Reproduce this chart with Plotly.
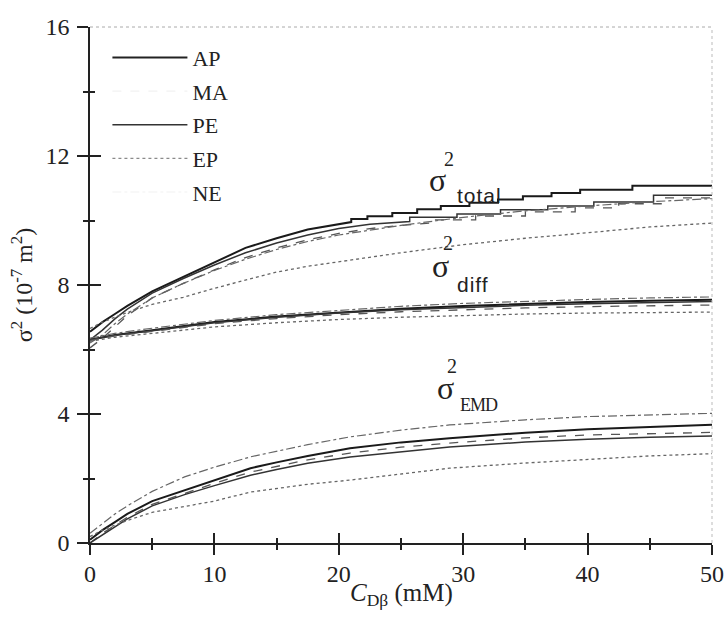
import plotly.graph_objects as go

# ---------------- data ----------------
models = ["AP", "MA", "PE", "EP", "NE"]

x_grid = [0, 1, 2, 3, 5, 7.5, 10, 12.5, 15, 17.5, 20, 25, 30, 35, 40, 45, 50]

# sigma^2_total : smooth part + staircase part
total_AP_x = [0, 1, 2, 3, 5, 7.5, 10, 12.5, 15, 17.5, 21.0]
total_AP_y = [6.55, 6.85, 7.1, 7.35, 7.8, 8.25, 8.7, 9.15, 9.45, 9.72, 9.95]
total_AP_step_x = [21.0, 22.3, 24.3, 26.3, 28.2, 30.5, 32.8, 34.8, 37.1, 39.4, 43.6]
total_AP_step_y = [10.05, 10.13, 10.23, 10.35, 10.45, 10.55, 10.65, 10.75, 10.85, 10.95, 11.08]

total_PE_x = [0, 1, 2, 3, 5, 7.5, 10, 12.5, 15, 17.5, 20, 22.5, 25.7]
total_PE_y = [6.3, 6.6, 6.95, 7.25, 7.75, 8.2, 8.62, 9.0, 9.3, 9.55, 9.75, 9.88, 9.97]
total_PE_step_x = [25.7, 29.5, 33.0, 36.8, 40.5, 45.3]
total_PE_step_y = [10.1, 10.2, 10.33, 10.45, 10.57, 10.78]

total_MA_x = [0, 1, 2, 3, 5, 7.5, 10, 12.5, 15, 17.5, 20, 22.5, 25, 27.3]
total_MA_y = [6.05, 6.35, 6.7, 7.05, 7.6, 8.05, 8.47, 8.85, 9.15, 9.4, 9.6, 9.75, 9.85, 9.92]
total_MA_step_x = [27.3, 31.0, 35.0, 39.0, 42.5, 46.0]
total_MA_step_y = [10.02, 10.14, 10.27, 10.39, 10.52, 10.7]

total_NE_y = [6.2, 6.45, 6.8, 7.1, 7.6, 8.05, 8.45, 8.8, 9.1, 9.35, 9.55, 9.85, 10.1, 10.3, 10.45, 10.58, 10.68]
total_EP_y = [6.65, 6.85, 7.0, 7.15, 7.4, 7.62, 7.9, 8.15, 8.4, 8.58, 8.72, 9.0, 9.25, 9.45, 9.62, 9.8, 9.92]

# sigma^2_diff
diff_x = [0, 2, 5, 10, 15, 20, 25, 30, 35, 40, 45, 50]
diff_AP = [6.3, 6.45, 6.6, 6.85, 7.02, 7.15, 7.26, 7.35, 7.42, 7.47, 7.51, 7.54]
diff_PE = [6.3, 6.44, 6.58, 6.83, 7.0, 7.13, 7.23, 7.31, 7.37, 7.42, 7.46, 7.49]
diff_MA = [6.28, 6.42, 6.56, 6.8, 6.96, 7.08, 7.17, 7.24, 7.29, 7.33, 7.36, 7.38]
diff_NE = [6.35, 6.5, 6.66, 6.9, 7.08, 7.22, 7.34, 7.43, 7.5, 7.55, 7.6, 7.63]
diff_EP = [6.25, 6.38, 6.5, 6.7, 6.83, 6.93, 7.0, 7.06, 7.1, 7.13, 7.15, 7.16]

# sigma^2_EMD
emd_x = [0, 1, 2, 3, 5, 7.6, 10, 12.9, 15, 17.5, 20.9, 25, 28.9, 35, 40, 45, 50]
emd_NE = [0.3, 0.6, 0.9, 1.15, 1.6, 2.05, 2.35, 2.67, 2.85, 3.05, 3.29, 3.5, 3.66, 3.82, 3.92, 3.98, 4.02]
emd_AP = [0.1, 0.4, 0.65, 0.9, 1.3, 1.64, 1.95, 2.32, 2.5, 2.7, 2.94, 3.12, 3.25, 3.42, 3.53, 3.61, 3.67]
emd_MA = [0.0, 0.3, 0.55, 0.8, 1.2, 1.55, 1.85, 2.2, 2.38, 2.58, 2.79, 2.97, 3.1, 3.26, 3.35, 3.4, 3.43]
emd_PE = [0.0, 0.25, 0.5, 0.75, 1.15, 1.5, 1.78, 2.1, 2.28, 2.47, 2.67, 2.84, 2.98, 3.13, 3.22, 3.28, 3.32]
emd_EP = [0.2, 0.4, 0.55, 0.7, 0.95, 1.12, 1.3, 1.58, 1.7, 1.82, 1.95, 2.14, 2.32, 2.48, 2.6, 2.7, 2.77]

x_end = 50
x_ticks = [0, 10, 20, 30, 40, 50]
y_ticks = [0, 4, 8, 12, 16]

# curve-group labels: (subscript text, sigma pos, "2" pos, subscript pos)
group_labels = [
    ("total", (27.97, 11.25), (28.86, 11.92), (29.34, 10.76)),
    ("diff", (28.14, 8.6), (28.78, 9.3), (29.34, 8.03)),
    ("EMD", (28.54, 4.82), (29.10, 5.5), (29.58, 4.28)),
]

# ---------------- styles ----------------
style = {
    "AP": dict(color="#1a1a1a", width=2.0, dash="solid"),
    "MA": dict(color="#555555", width=1.3, dash="dash"),
    "PE": dict(color="#333333", width=1.5, dash="solid"),
    "EP": dict(color="#666666", width=1.3, dash="dot"),
    "NE": dict(color="#666666", width=1.2, dash="dashdot"),
}
legend_color = {"AP": "#222222", "MA": "#f2f2f2", "PE": "#333333", "EP": "#8a8a8a", "NE": "#f2f2f2"}


def staircase(xs, ys, sx, sy, xe):
    X, Y = list(xs), list(ys)
    for i, (a, b) in enumerate(zip(sx, sy)):
        X.append(a); Y.append(b)
        nxt = sx[i + 1] if i + 1 < len(sx) else xe
        X.append(nxt); Y.append(b)
    return X, Y


fig = go.Figure()

def add(x, y, m):
    fig.add_trace(go.Scatter(x=x, y=y, mode="lines", line=style[m], showlegend=False,
                             hoverinfo="skip"))

# total
X, Y = staircase(total_AP_x, total_AP_y, total_AP_step_x, total_AP_step_y, x_end); add(X, Y, "AP")
X, Y = staircase(total_PE_x, total_PE_y, total_PE_step_x, total_PE_step_y, x_end); add(X, Y, "PE")
X, Y = staircase(total_MA_x, total_MA_y, total_MA_step_x, total_MA_step_y, x_end); add(X, Y, "MA")
add(x_grid, total_NE_y, "NE")
add(x_grid, total_EP_y, "EP")
# diff
for m, arr in zip(["AP", "PE", "MA", "NE", "EP"], [diff_AP, diff_PE, diff_MA, diff_NE, diff_EP]):
    add(diff_x, arr, m)
# EMD
for m, arr in zip(["NE", "AP", "MA", "PE", "EP"], [emd_NE, emd_AP, emd_MA, emd_PE, emd_EP]):
    add(emd_x, arr, m)

# legend entries
for i, m in enumerate(models):
    st = dict(style[m]); st["color"] = legend_color[m]
    fig.add_trace(go.Scatter(x=[None], y=[None], mode="lines", name=m, line=st,
                             legendgroup=m, showlegend=True))

# overlay axes (for ticks crossing axis line)
fig.add_trace(go.Scatter(x=[None], y=[None], xaxis="x2", yaxis="y2", showlegend=False))

serif = "Liberation Serif"
tickfont = dict(family="Liberation Serif, serif", size=24, color="#222")
axis_common = dict(showgrid=False, zeroline=False, tickcolor="#222", tickwidth=1.5, automargin=False)

fig.update_layout(
    width=728, height=618,
    margin=dict(l=90, r=16, t=27, b=75, autoexpand=False),
    paper_bgcolor="white", plot_bgcolor="white",
    font=dict(family=serif, color="#222"),
    xaxis=dict(range=[0, 50], tickvals=x_ticks, ticks="outside", ticklen=10,
               showline=True, linecolor="#222", linewidth=1.5, tickfont=tickfont,
               ticklabelstandoff=-2,
               minor=dict(ticks="outside", ticklen=5, dtick=5, tickcolor="#222", tickwidth=1.5),
               **axis_common),
    yaxis=dict(range=[0, 16], tickvals=y_ticks, ticks="outside", ticklen=11,
               showline=True, linecolor="#222", linewidth=1.5, tickfont=tickfont,
               ticklabelstandoff=3,
               minor=dict(ticks="outside", ticklen=5, dtick=2, tickcolor="#222", tickwidth=1.5),
               title=dict(text="σ<sup>2</sup> (10<sup>-7</sup> m<sup>2</sup>)",
                          font=dict(family=serif, size=24, color="#222"), standoff=6),
               **axis_common),
    xaxis2=dict(overlaying="x", anchor="y2", range=[0, 50], tickvals=x_ticks, ticks="inside", ticklen=10,
                showticklabels=False, showline=False, side="bottom",
                minor=dict(ticks="inside", ticklen=5, dtick=5, tickcolor="#222", tickwidth=1.5),
                **axis_common),
    yaxis2=dict(overlaying="y", anchor="x2", range=[0, 16], tickvals=y_ticks, ticks="inside", ticklen=11,
                showticklabels=False, showline=False, side="left",
                minor=dict(ticks="inside", ticklen=5, dtick=2, tickcolor="#222", tickwidth=1.5),
                **axis_common),
    legend=dict(x=0.028, y=0.981, xanchor="left", yanchor="top", bgcolor="rgba(0,0,0,0)",
                font=dict(family=serif, size=22, color="#222"), traceorder="grouped",
                tracegroupgap=2, itemwidth=75),
    showlegend=True,
)

# faint dotted top/right frame
fig.add_shape(type="line", xref="paper", yref="paper", x0=0, x1=1, y0=1, y1=1,
              line=dict(color="#aaaaaa", width=1, dash="dot"))
fig.add_shape(type="line", xref="paper", yref="paper", x0=1, x1=1, y0=0, y1=1,
              line=dict(color="#bbbbbb", width=1, dash="dot"))

sans = "Liberation Sans, sans-serif"
for sub, p_sigma, p_two, p_sub in group_labels:
    fig.add_annotation(x=p_sigma[0], y=p_sigma[1], xref="x", yref="y", xanchor="center", yanchor="middle",
                       showarrow=False, text="σ", font=dict(family=serif, size=32, color="#222"))
    fig.add_annotation(x=p_two[0], y=p_two[1], xref="x", yref="y", xanchor="center", yanchor="middle",
                       showarrow=False, text="2", font=dict(family=serif, size=20, color="#222"))
    if sub == "EMD":
        f = dict(family=serif, size=18, color="#222")
        txt = "<span style='letter-spacing:-1px'>EMD</span>"
    else:
        f = dict(family=sans, size=21, color="#222")
        txt = "<span style='letter-spacing:1px'>" + sub + "</span>"
    fig.add_annotation(x=p_sub[0], y=p_sub[1], xref="x", yref="y", xanchor="left", yanchor="middle",
                       showarrow=False, text=txt, font=f)

fig.add_annotation(x=25, y=-0.1, xref="x", yref="paper", xanchor="center", yanchor="middle",
                   showarrow=False, text="<i>C</i><sub>Dβ</sub> (mM)",
                   font=dict(family=serif, size=25, color="#222"))

# remove the default 8px page margin so the 728x618 figure fills the window exactly
fig.write_html("out.html", config={"displayModeBar": False},
               post_script="document.body.style.margin='0';")
